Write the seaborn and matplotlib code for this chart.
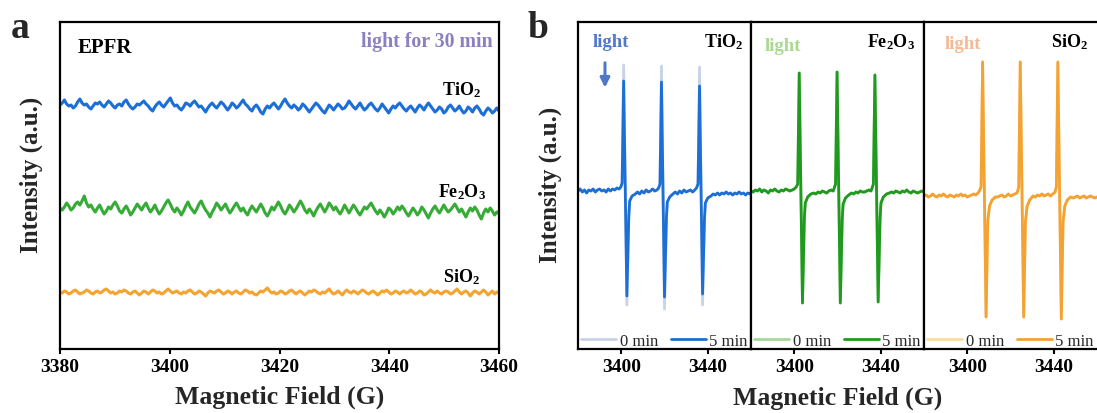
import numpy as np
import matplotlib
matplotlib.use("Agg")
import matplotlib.pyplot as plt
import seaborn as sns

# ---------------- data: panel a (EPFR, light for 30 min) ----------------
a_ticks = [3380, 3400, 3420, 3440, 3460]
a_names = ["TiO$_2$", "Fe$_2$O$_3$", "SiO$_2$"]

tio2_a = [
    244, 246, 249, 245, 243, 244, 241, 243, 247, 250, 246, 244, 245, 242, 240, 243, 246, 245, 247, 244,
    242, 245, 248, 246, 243, 241, 244, 245, 243, 247, 249, 245, 242, 240, 242, 245, 244, 246, 248, 245,
    243, 240, 238, 242, 245, 247, 244, 242, 245, 248, 251, 246, 243, 244, 241, 239, 242, 246, 245, 243,
    246, 248, 245, 242, 243, 240, 237, 241, 244, 246, 243, 241, 244, 247, 245, 242, 239, 242, 246, 244,
    241, 243, 246, 249, 245, 243, 240, 238, 242, 244, 241, 237, 235, 240, 243, 241, 244, 246, 243, 240,
    243, 247, 250, 246, 243, 241, 244, 242, 239, 241, 245, 243, 240, 237, 240, 243, 246, 244, 241, 238,
    236, 240, 244, 242, 239, 242, 245, 243, 240, 241, 244, 248, 245, 242, 240, 243, 246, 242, 239, 241,
    244, 246, 243, 240, 238, 241, 245, 242, 239, 236, 240, 243, 241, 244, 246, 243, 240, 238, 241, 243,
    240, 237, 241, 244, 242, 239, 243, 246, 243, 240, 237, 239, 242, 240, 236, 238, 242, 244, 241, 238,
    240, 243, 239, 236, 238, 242, 240, 237, 241, 243, 240, 236, 234, 238, 241, 239, 236, 238, 241, 238]

fe2o3_a = [
    141, 139, 142, 146, 143, 139, 141, 145, 147, 144, 148, 153, 146, 142, 144, 140, 137, 141, 144, 139,
    135, 138, 142, 140, 144, 147, 143, 138, 136, 140, 143, 139, 134, 137, 141, 145, 142, 139, 143, 146,
    141, 137, 140, 144, 139, 135, 138, 142, 146, 149, 145, 140, 137, 141, 138, 134, 138, 143, 147, 142,
    139, 136, 140, 145, 148, 143, 139, 136, 132, 137, 141, 146, 143, 139, 142, 145, 140, 136, 139, 143,
    146, 142, 138, 141, 137, 134, 139, 143, 140, 137, 141, 145, 141, 136, 133, 137, 142, 139, 143, 147,
    143, 138, 135, 139, 144, 141, 137, 140, 144, 148, 144, 139, 136, 140, 137, 133, 138, 142, 145, 141,
    137, 141, 146, 143, 139, 142, 138, 135, 139, 144, 140, 136, 140, 144, 141, 137, 134, 138, 142, 140,
    143, 146, 142, 138, 135, 139, 136, 132, 136, 141, 139, 135, 138, 142, 139, 143, 140, 136, 133, 137,
    141, 138, 134, 137, 142, 139, 135, 131, 136, 140, 143, 139, 136, 140, 144, 140, 137, 139, 142, 145,
    141, 137, 140, 136, 132, 137, 141, 138, 142, 139, 134, 130, 136, 140, 137, 141, 138, 134, 137, 135]

sio2_a = [
    57, 56, 58, 57, 55, 56, 58, 59, 57, 55, 56, 57, 59, 58, 56, 55, 57, 58, 56, 57,
    59, 60, 58, 56, 57, 55, 56, 58, 57, 59, 58, 56, 55, 57, 58, 56, 54, 56, 58, 57,
    55, 57, 59, 58, 56, 57, 55, 56, 58, 60, 58, 56, 57, 58, 56, 55, 57, 56, 58, 59,
    57, 55, 56, 58, 57, 55, 53, 56, 58, 57, 56, 58, 59, 57, 55, 56, 58, 57, 55, 57,
    58, 56, 55, 57, 59, 58, 56, 57, 55, 54, 56, 58, 57, 59, 61, 58, 56, 57, 55, 56,
    58, 57, 55, 56, 58, 59, 57, 55, 57, 58, 56, 54, 56, 58, 57, 59, 58, 56, 55, 57,
    56, 58, 60, 57, 55, 56, 58, 56, 54, 57, 59, 57, 56, 58, 57, 55, 57, 59, 58, 56,
    55, 57, 58, 56, 54, 56, 58, 57, 59, 57, 55, 56, 58, 57, 55, 57, 58, 56, 57, 59,
    57, 55, 56, 58, 57, 54, 55, 57, 59, 57, 56, 58, 56, 55, 57, 58, 57, 55, 56, 58,
    60, 57, 55, 57, 58, 56, 53, 56, 58, 57, 55, 57, 59, 57, 54, 56, 58, 55, 57, 56]

field_a = np.linspace(3380, 3460, len(tio2_a))

# ---------------- data: panel b (spectra, 0 min / 5 min) ----------------
b_ticks = [3400, 3440]

field_ti = [3380, 3381, 3382, 3383, 3384, 3385, 3386, 3387, 3388, 3389, 3390, 3391,
            3392, 3393, 3394, 3395, 3396, 3397, 3398, 3399, 3399.8, 3400.4,
            3401.1, 3402.6, 3403.5, 3403.9, 3405.0, 3406.5,
            3407.5, 3408.5, 3409.5, 3410.5, 3411.5, 3412.5, 3413.5, 3414.5, 3415.5, 3416.5, 3417.3, 3417.9,
            3418.6, 3420.0, 3420.9, 3421.3, 3422.4, 3423.9,
            3425, 3426, 3427, 3428, 3429, 3430, 3431, 3432, 3433, 3434, 3434.8, 3435.5,
            3436.2, 3437.6, 3438.5, 3438.9, 3440.0, 3441.5,
            3442.5, 3443.5, 3444.5, 3445.5, 3446.5, 3447.5, 3448.5, 3449.5, 3450.5, 3451.5,
            3452.5, 3453.5, 3454.5, 3455.5, 3456.5, 3457.5, 3458.5, 3459.5, 3460]
tio2_5min = [0, 2, -1, 1, -2, 1, 0, 2, -1, 1, 2, 0, 1, -1, 2, 0, 2, 1, 3, 2, 4, 8,
             110, -105, -25, -10, -5, -3,
             -1, -3, 0, -2, 1, -1, 0, 2, 0, 1, 3, 7,
             109, -106, -26, -11, -6, -3,
             -1, -3, 0, -2, 1, -1, 0, 1, -1, 1, 3, 7,
             105, -103, -27, -12, -7, -5,
             -3, -4, -2, -4, -2, -3, -1, -3, -2, -4, -2, -3, -1, -3, -2, -4, -2, -3, -2]
tio2_0min = [0, 2, -1, 1, -2, 1, 0, 2, -1, 1, 2, 0, 1, -1, 2, 0, 2, 1, 3, 2, 4, 8,
             126, -114, -25, -10, -5, -3,
             -1, -3, 0, -2, 1, -1, 0, 2, 0, 1, 3, 7,
             125, -118, -26, -11, -6, -3,
             -1, -3, 0, -2, 1, -1, 0, 1, -1, 1, 3, 7,
             124, -114, -27, -12, -7, -5,
             -3, -4, -2, -4, -2, -3, -1, -3, -2, -4, -2, -3, -1, -3, -2, -4, -2, -3, -2]

field_fe = [3380, 3381, 3382, 3383, 3384, 3385, 3386, 3387, 3388, 3389, 3390, 3391, 3392,
            3393, 3394, 3395, 3396, 3397, 3398, 3399, 3400, 3400.9, 3401.6,
            3402.3, 3403.8, 3404.7, 3405.1, 3406.2, 3407.7,
            3409, 3410, 3411, 3412, 3413, 3414, 3415, 3416, 3417, 3418, 3418.5, 3419.1,
            3419.8, 3421.3, 3422.2, 3422.6, 3423.7, 3425.2,
            3426.5, 3427.5, 3428.5, 3429.5, 3430.5, 3431.5, 3432.5, 3433.5, 3434.5, 3435.5, 3436.0, 3436.6,
            3437.3, 3438.8, 3439.7, 3440.1, 3441.2, 3442.7,
            3444, 3445, 3446, 3447, 3448, 3449, 3450, 3451, 3452, 3453, 3454, 3455, 3456,
            3457, 3458, 3459, 3460]
fe2o3_5min = [0, -1, 1, 0, 2, -1, 1, 0, -2, 1, 0, 2, 0, -1, 1, 0, 2, 1, 0, 1, 2, 4, 7,
              118, -112, -26, -12, -6, -3,
              -2, -3, -1, -2, 0, -1, -2, 0, 1, 0, 3, 7,
              119, -112, -27, -13, -7, -4,
              -2, -3, -1, -2, 0, -1, -1, 0, 1, 0, 3, 7,
              116, -111, -27, -12, -6, -3,
              -2, -1, -2, 0, -1, -2, 0, -1, 1, -1, -2, 0, -1, -2, -1, 0, -1]
fe2o3_0min = fe2o3_5min  # hidden under the 5 min trace in the picture

field_si = [3380, 3381, 3382, 3383, 3384, 3385, 3386, 3387, 3388, 3389, 3390, 3391, 3392,
            3393, 3394, 3395, 3396, 3397, 3398, 3399, 3400, 3401, 3402, 3403, 3404, 3405,
            3405.6, 3406.4,
            3407.1, 3408.7, 3409.5, 3410.3, 3411.5, 3413.0,
            3414, 3415, 3416, 3417, 3418, 3419, 3420, 3421, 3422, 3423, 3423.2, 3423.8,
            3424.5, 3426.1, 3426.9, 3427.7, 3428.9, 3430.4,
            3431.5, 3432.5, 3433.5, 3434.5, 3435.5, 3436.5, 3437.5, 3438.5, 3439.5, 3440.2, 3440.6, 3441.2,
            3441.9, 3443.5, 3444.3, 3445.1, 3446.3, 3447.8,
            3449, 3450, 3451, 3452, 3453, 3454, 3455, 3456, 3457, 3458, 3459, 3460]
sio2_5min = [-5, -4, -6, -5, -3, -5, -6, -4, -5, -3, -5, -6, -4, -5, -6, -4, -5, -3, -5, -4,
             -6, -5, -4, -3, -4, -2, 0, 4,
             129, -126, -30, -15, -9, -6,
             -6, -5, -4, -6, -5, -3, -5, -4, -3, -2, -1, 4,
             129, -126, -31, -15, -9, -5,
             -6, -4, -5, -3, -5, -4, -3, -5, -3, -2, -1, 4,
             129, -128, -31, -15, -9, -6,
             -7, -6, -5, -7, -6, -5, -7, -6, -5, -6, -7, -6]
sio2_0min = sio2_5min  # hidden under the 5 min trace in the picture

# ---------------- style ----------------
sns.set_theme(style="white")
plt.rcParams["font.family"] = ["Liberation Serif", "DejaVu Serif"]
plt.rcParams["mathtext.fontset"] = "custom"
plt.rcParams["mathtext.rm"] = "Liberation Serif:bold"
plt.rcParams["mathtext.it"] = "Liberation Serif:bold"
plt.rcParams["mathtext.bf"] = "Liberation Serif:bold"

W, H = 1097, 414
fig = plt.figure(figsize=(W / 100, H / 100), dpi=100)


def box(x0, y0, x1, y1):
    return [x0 / W, 1 - y1 / H, (x1 - x0) / W, (y1 - y0) / H]


def style_axis(ax, ticks):
    for s in ax.spines.values():
        s.set_color("black")
        s.set_linewidth(1.6)
    ax.set_yticks([])
    ax.set_xticks(ticks)
    ax.tick_params(axis="x", direction="out", length=3.5, width=1.5, pad=3,
                   labelsize=14, colors="black", bottom=True)
    for lbl in ax.get_xticklabels():
        lbl.set_fontweight("bold")
    ax.set_xlabel("")
    ax.set_ylabel("")


# ---------------- panel a ----------------
axa = fig.add_axes(box(60, 23.3, 499, 350))
a_colors = ["#1b6fd6", "#36ab36", "#f5a431"]
for vals, col in zip([tio2_a, fe2o3_a, sio2_a], a_colors):
    sns.lineplot(x=field_a, y=vals, ax=axa, color=col, lw=2.2, estimator=None, sort=False)
axa.set_xlim(3380, 3460)
axa.set_ylim(0, 326.7)
style_axis(axa, a_ticks)

axa.text(0.041, 0.924, "EPFR", transform=axa.transAxes, ha="left", va="center",
         fontsize=15, fontweight="bold", color="black")
axa.text(0.986, 0.942, "light for 30 min", transform=axa.transAxes, ha="right", va="center",
         fontsize=14.3, fontweight="bold", color="#8b80c0")
for name, yb in zip(a_names, [0.780, 0.468, 0.208]):
    axa.text(0.915, yb, name, transform=axa.transAxes, ha="center", va="baseline",
             fontsize=13, fontweight="bold", color="black")

fig.text(31 / W, 1 - 175 / H, "Intensity (a.u.)", rotation=90, ha="center", va="center",
         fontsize=18, fontweight="bold")
fig.text(279.5 / W, 1 - 397 / H, "Magnetic Field (G)", ha="center", va="center",
         fontsize=18.5, fontweight="bold")
fig.text(11 / W, 1 - 38 / H, "a", ha="left", va="baseline", fontsize=27, fontweight="bold")

# ---------------- panel b ----------------
edges = [578, 751, 924, 1097]
b_fields = [field_ti, field_fe, field_si]
b_0min = [tio2_0min, fe2o3_0min, sio2_0min]
b_5min = [tio2_5min, fe2o3_5min, sio2_5min]
b_names = ["TiO$_2$", "Fe$_2$O$_3$", "SiO$_2$"]
c_light = ["#c9d3e8", "#a6d89c", "#f9dba9"]
c_dark = ["#1c6fd5", "#1f9a1f", "#f4a232"]
c_word = ["#4f78c8", "#a9d88f", "#f6b995"]
word_pos = [(0.087, 0.927), (0.081, 0.915), (0.121, 0.921)]
name_x = [0.954, 0.948, 0.948]

for i in range(3):
    ax = fig.add_axes(box(edges[i], 23.3, edges[i + 1], 350))
    sns.lineplot(x=b_fields[i], y=b_0min[i], ax=ax, color=c_light[i], lw=2.0,
                 estimator=None, sort=False, label="0 min")
    sns.lineplot(x=b_fields[i], y=b_5min[i], ax=ax, color=c_dark[i], lw=2.0,
                 estimator=None, sort=False, label="5 min")
    ax.set_xlim(3380, 3460)
    ax.set_ylim(-158, 168.7)
    style_axis(ax, b_ticks)
    if i == 2:
        ax.spines["right"].set_visible(False)
    ax.legend(loc="lower center", ncol=2, frameon=False, fontsize=12,
              handlelength=2.1, handletextpad=0.2, columnspacing=0.8,
              borderpad=0.0, borderaxespad=0.0)
    ax.text(word_pos[i][0], word_pos[i][1], "light", transform=ax.transAxes,
            ha="left", va="baseline", fontsize=13.5, fontweight="bold", color=c_word[i])
    ax.text(name_x[i], 0.927, b_names[i], transform=ax.transAxes, ha="right",
            va="baseline", fontsize=13, fontweight="bold", color="black")
    if i == 0:
        ax.annotate("", xy=(0.156, 0.800), xytext=(0.156, 0.876), xycoords="axes fraction",
                    textcoords="axes fraction",
                    arrowprops=dict(arrowstyle="-|>", color="#4f78c8", lw=2.2,
                                    mutation_scale=14, shrinkA=0, shrinkB=0))

fig.text(550 / W, 1 - 185 / H, "Intensity (a.u.)", rotation=90, ha="center", va="center",
         fontsize=18, fontweight="bold")
fig.text(837.5 / W, 1 - 398 / H, "Magnetic Field (G)", ha="center", va="center",
         fontsize=18.5, fontweight="bold")
fig.text(528 / W, 1 - 38 / H, "b", ha="left", va="baseline", fontsize=27, fontweight="bold")

fig.savefig("out.png", dpi=100)
